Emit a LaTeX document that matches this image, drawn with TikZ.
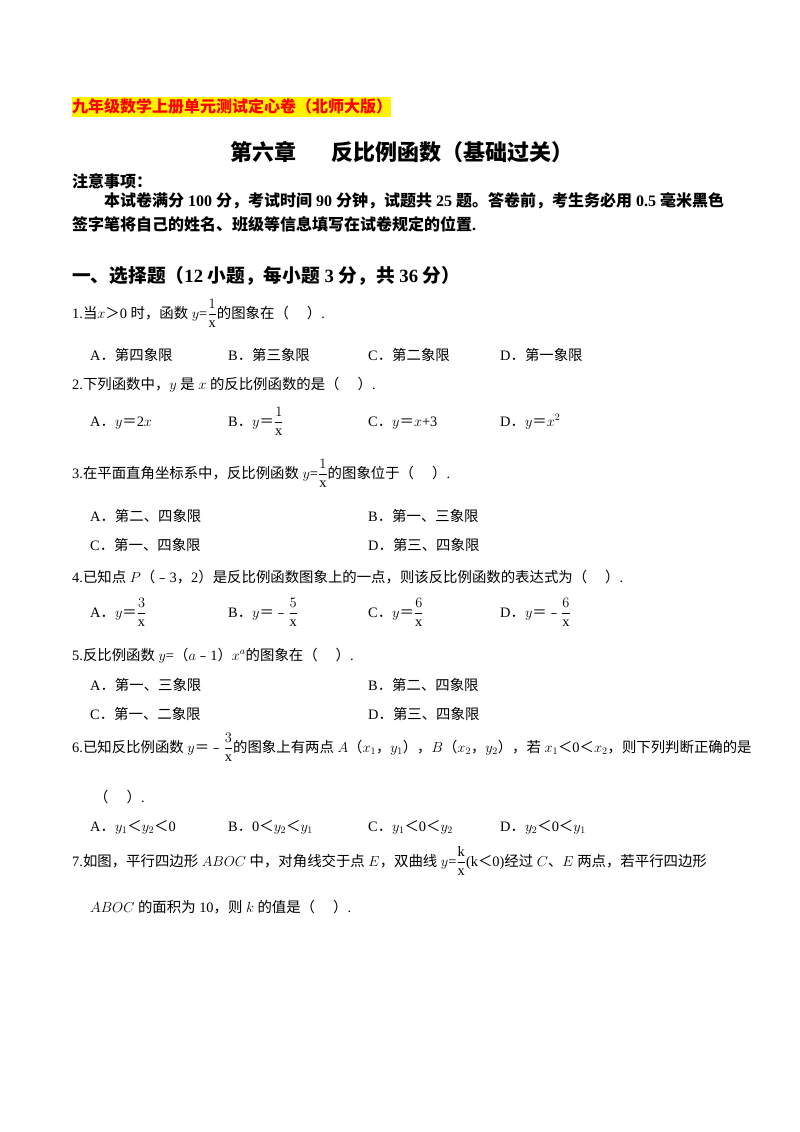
\documentclass[tikz,border=0pt]{standalone}
\usepackage{amsmath}
\usepackage{fontspec}
\setmainfont{Liberation Serif}
\newfontfamily\cjk{Noto Sans CJK SC}
\XeTeXinterchartokenstate=1
\newXeTeXintercharclass\cjkclass
\newcount\cc
\cc="4E00 \loop\XeTeXcharclass\cc=\cjkclass \advance\cc 1 \ifnum\cc<"9FFF\repeat
\cc="3000 \loop\XeTeXcharclass\cc=\cjkclass \advance\cc 1 \ifnum\cc<"3040\repeat
\cc="FF00 \loop\XeTeXcharclass\cc=\cjkclass \advance\cc 1 \ifnum\cc<"FFF0\repeat
\XeTeXinterchartoks 0 \cjkclass = {\begingroup\cjk}
\XeTeXinterchartoks 4095 \cjkclass = {\begingroup\cjk}
\XeTeXinterchartoks \cjkclass 0 = {\endgroup}
\XeTeXinterchartoks \cjkclass 4095 = {\endgroup}
\newcommand\mn{{\cjk ﹣}}
\begin{document}
\begin{tikzpicture}[x=1pt,y=-1pt,
  t/.style={anchor=base west,inner sep=0pt,font=\fontsize{14.4}{16}\selectfont},
  b/.style={t,font=\fontsize{16}{18}\bfseries\selectfont}]
\useasboundingbox[fill=white] (0,0) rectangle (800,1132);
\fill[yellow] (72,97) rectangle (391,117);
\node[b,text=red] (h) at (72,112) {\cjk 九年级数学上册单元测试定心卷（北师大版）};
\node[anchor=base,inner sep=0pt,font=\fontsize{22}{24}\bfseries\selectfont] (ti) at (402,160) {\cjk 第六章\hspace{1.6em}反比例函数（基础过关）};
\node[b] (z) at (72,187) {注意事项：};
\node[b] (z1) at (104,206) {本试卷满分 100 分，考试时间 90 分钟，试题共 25 题。答卷前，考生务必用 0.5 毫米黑色};
\node[b] (z2) at (72,230) {签字笔将自己的姓名、班级等信息填写在试卷规定的位置.};
\node[b,font=\fontsize{18.7}{20}\bfseries\selectfont] (s) at (72,282) {一、选择题（12 小题，每小题 3 分，共 36 分）};
\node[t] (q1) at (72,318) {1.当$x$＞0 时，函数 $y$=$\dfrac{1}{\mathrm{x}}$的图象在（\quad\ ）.};
\node[t] (q1a) at (90,360) {A．第四象限};
\node[t] (q1b) at (228,360) {B．第三象限};
\node[t] (q1c) at (368,360) {C．第二象限};
\node[t] (q1d) at (500,360) {D．第一象限};
\node[t] (q2) at (72,389) {2.下列函数中，$y$ 是 $x$ 的反比例函数的是（\quad\ ）.};
\node[t] (q2a) at (90,426) {A．$y$＝2$x$};
\node[t] (q2b) at (228,426) {B．$y$＝$\dfrac{1}{\mathrm{x}}$};
\node[t] (q2c) at (368,426) {C．$y$＝$x$+3};
\node[t] (q2d) at (500,426) {D．$y$＝$x^2$};
\node[t] (q3) at (72,478) {3.在平面直角坐标系中，反比例函数 $y$=$\dfrac{1}{\mathrm{x}}$的图象位于（\quad\ ）.};
\node[t] (q3a) at (90,521) {A．第二、四象限};
\node[t] (q3b) at (368,521) {B．第一、三象限};
\node[t] (q3c) at (90,550) {C．第一、四象限};
\node[t] (q3d) at (368,550) {D．第三、四象限};
\node[t] (q4) at (72,582) {4.已知点 $P$（\mn 3，2）是反比例函数图象上的一点，则该反比例函数的表达式为（\quad\ ）.};
\node[t] (q4a) at (90,617) {A．$y$＝$\dfrac{3}{\mathrm{x}}$};
\node[t] (q4b) at (228,617) {B．$y$＝\mn$\dfrac{5}{\mathrm{x}}$};
\node[t] (q4c) at (368,617) {C．$y$＝$\dfrac{6}{\mathrm{x}}$};
\node[t] (q4d) at (500,617) {D．$y$＝\mn$\dfrac{6}{\mathrm{x}}$};
\node[t] (q5) at (72,660) {5.反比例函数 $y$=（$a$\mn 1）$x^a$的图象在（\quad\ ）.};
\node[t] (q5a) at (90,690) {A．第一、三象限};
\node[t] (q5b) at (368,690) {B．第二、四象限};
\node[t] (q5c) at (90,719) {C．第一、二象限};
\node[t] (q5d) at (368,719) {D．第三、四象限};
\node[t] (q6) at (72,752) {6.已知反比例函数 $y$＝\mn$\dfrac{3}{\mathrm{x}}$的图象上有两点 $A$（$x_1$，$y_1$），$B$（$x_2$，$y_2$），若 $x_1$＜0＜$x_2$，则下列判断正确的是};
\node[t] (q6p) at (94,802) {（\quad\ ）.};
\node[t] (q6a) at (90,831) {A．$y_1$＜$y_2$＜0};
\node[t] (q6b) at (228,831) {B．0＜$y_2$＜$y_1$};
\node[t] (q6c) at (368,831) {C．$y_1$＜0＜$y_2$};
\node[t] (q6d) at (500,831) {D．$y_2$＜0＜$y_1$};
\node[t] (q7) at (72,866) {7.如图，平行四边形 $ABOC$ 中，对角线交于点 $E$，双曲线 $y$=$\dfrac{\mathrm{k}}{\mathrm{x}}$(k＜0)经过 $C$、$E$ 两点，若平行四边形};
\node[t] (q7b) at (90,912) {$ABOC$ 的面积为 10，则 $k$ 的值是（\quad\ ）.};
\end{tikzpicture}
\end{document}
